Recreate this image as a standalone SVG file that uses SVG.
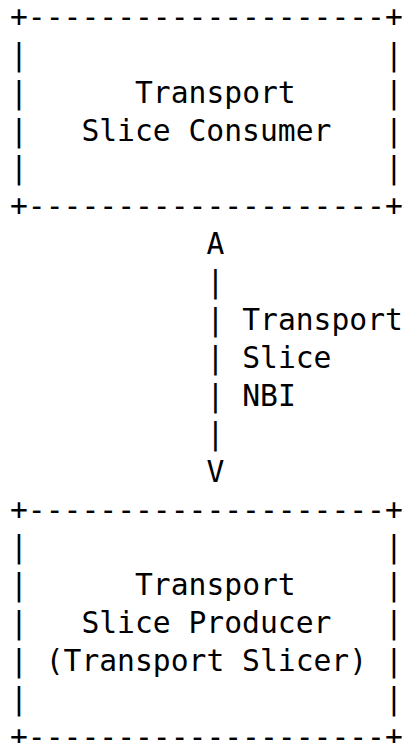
<svg xmlns="http://www.w3.org/2000/svg" width="408" height="743" viewBox="0 0 408 743">
  <style>
    text { font-family: "DejaVu Sans Mono", "Liberation Mono", monospace; font-size: 29.67px; fill: #000; white-space: pre; }
  </style>
  <rect width="408" height="743" fill="#fff"/>

  <!-- Upper box: consumer -->
  <g id="consumer">
    <text x="10" y="26.8">+--------------------+</text>
    <text x="10" y="64.7">|</text><text x="385.1" y="64.7">|</text>
    <text x="10" y="102.6">|</text><text x="135" y="102.6">Transport</text><text x="385.1" y="102.6">|</text>
    <text x="10" y="140.5">|</text><text x="81.4" y="140.5">Slice Consumer</text><text x="385.1" y="140.5">|</text>
    <text x="10" y="178.4">|</text><text x="385.1" y="178.4">|</text>
    <text x="10" y="216.3">+--------------------+</text>
  </g>

  <!-- Two-way link with its label -->
  <g id="connectors">
    <text x="206.5" y="254.2">A</text>
    <text x="206.5" y="292.1">|</text>
    <text x="206.5" y="330">|</text><text x="242.2" y="330">Transport</text>
    <text x="206.5" y="367.9">|</text><text x="242.2" y="367.9">Slice</text>
    <text x="206.5" y="405.8">|</text><text x="242.2" y="405.8">NBI</text>
    <text x="206.5" y="443.7">|</text>
    <text x="206.5" y="481.6">V</text>
  </g>

  <!-- Lower box: producer -->
  <g id="producer">
    <text x="10" y="519.5">+--------------------+</text>
    <text x="10" y="557.4">|</text><text x="385.1" y="557.4">|</text>
    <text x="10" y="595.3">|</text><text x="135" y="595.3">Transport</text><text x="385.1" y="595.3">|</text>
    <text x="10" y="633.2">|</text><text x="81.4" y="633.2">Slice Producer</text><text x="385.1" y="633.2">|</text>
    <text x="10" y="671.1">|</text><text x="45.7" y="671.1">(Transport Slicer)</text><text x="385.1" y="671.1">|</text>
    <text x="10" y="709">|</text><text x="385.1" y="709">|</text>
    <text x="10" y="746.9">+--------------------+</text>
  </g>
</svg>
